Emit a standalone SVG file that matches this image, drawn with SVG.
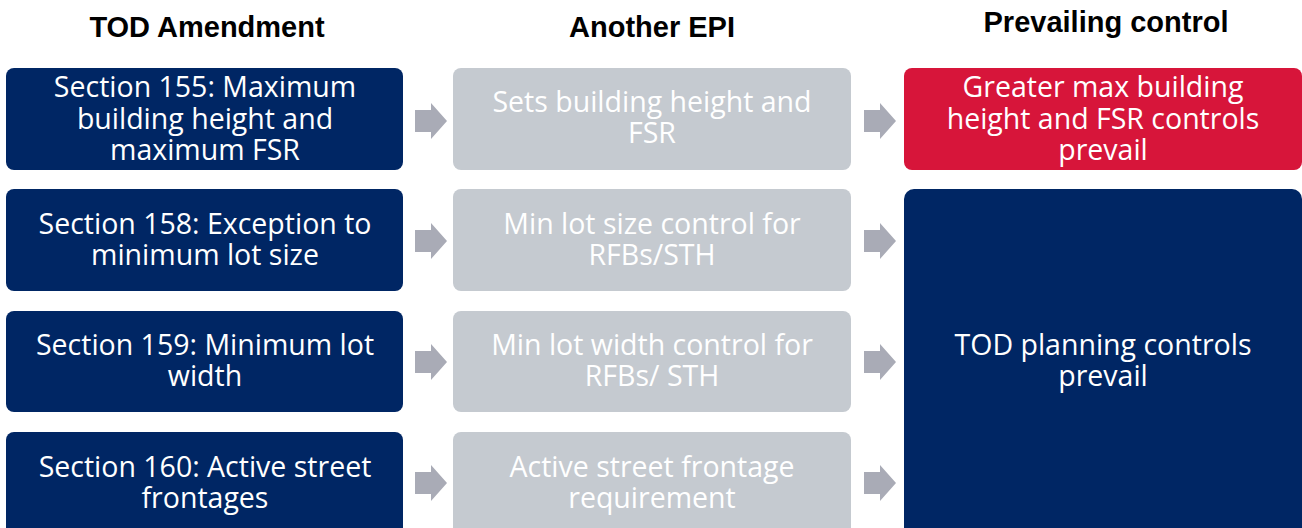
<svg xmlns="http://www.w3.org/2000/svg" width="1302" height="528" viewBox="0 0 1302 528">
  <style>
    .hdr { font-family: "Liberation Sans", Arial, sans-serif; font-weight: bold; font-size: 29px; fill: #000; text-anchor: middle; }
    .lbl { font-family: "Open Sans", "Noto Sans", sans-serif; font-size: 28.5px; fill: #fff; text-anchor: middle; }
    .navy { fill: #002664; }
    .grey { fill: #c5cad0; }
    .red { fill: #d7153a; }
    .arrow { fill: #a9abb6; }
  </style>
  <defs>
    <path id="arr" d="M0,-11 H16 V-18 L32,0 L16,18 V11 H0 Z"/>
  </defs>
  <rect width="1302" height="528" fill="#fff"/>

  <!-- column headings -->
  <g id="headings">
    <text class="hdr" x="207" y="37">TOD Amendment</text>
    <text class="hdr" x="652" y="37">Another EPI</text>
    <text class="hdr" x="1106" y="32">Prevailing control</text>
  </g>

  <!-- TOD amendment sections -->
  <g id="s155">
    <rect class="navy" x="6" y="68" width="397" height="102" rx="8"/>
    <text class="lbl" x="205" y="97">Section 155: Maximum</text>
    <text class="lbl" x="205" y="129">building height and</text>
    <text class="lbl" x="205" y="160">maximum FSR</text>
  </g>
  <g id="s158">
    <rect class="navy" x="6" y="189" width="397" height="102" rx="8"/>
    <text class="lbl" x="205" y="234">Section 158: Exception to</text>
    <text class="lbl" x="205" y="265">minimum lot size</text>
  </g>
  <g id="s159">
    <rect class="navy" x="6" y="311" width="397" height="101" rx="8"/>
    <text class="lbl" x="205" y="355">Section 159: Minimum lot</text>
    <text class="lbl" x="205" y="386">width</text>
  </g>
  <g id="s160">
    <rect class="navy" x="6" y="432" width="397" height="106" rx="8"/>
    <text class="lbl" x="205" y="477">Section 160: Active street</text>
    <text class="lbl" x="205" y="508">frontages</text>
  </g>

  <!-- other EPI controls -->
  <g id="epi-height">
    <rect class="grey" x="453" y="68" width="398" height="102" rx="8"/>
    <text class="lbl" x="652" y="112">Sets building height and</text>
    <text class="lbl" x="652" y="143">FSR</text>
  </g>
  <g id="epi-lot-size">
    <rect class="grey" x="453" y="189" width="398" height="102" rx="8"/>
    <text class="lbl" x="652" y="234">Min lot size control for</text>
    <text class="lbl" x="652" y="265">RFBs/STH</text>
  </g>
  <g id="epi-lot-width">
    <rect class="grey" x="453" y="311" width="398" height="101" rx="8"/>
    <text class="lbl" x="652" y="355">Min lot width control for</text>
    <text class="lbl" x="652" y="386">RFBs/ STH</text>
  </g>
  <g id="epi-frontage">
    <rect class="grey" x="453" y="432" width="398" height="106" rx="8"/>
    <text class="lbl" x="652" y="477">Active street frontage</text>
    <text class="lbl" x="652" y="508">requirement</text>
  </g>

  <!-- prevailing controls -->
  <g id="prevail-height">
    <rect class="red" x="904" y="68" width="398" height="102" rx="8"/>
    <text class="lbl" x="1103" y="97">Greater max building</text>
    <text class="lbl" x="1103" y="129">height and FSR controls</text>
    <text class="lbl" x="1103" y="160">prevail</text>
  </g>
  <g id="prevail-tod">
    <rect class="navy" x="904" y="189" width="398" height="350" rx="10"/>
    <text class="lbl" x="1103" y="355">TOD planning controls</text>
    <text class="lbl" x="1103" y="386">prevail</text>
  </g>

  <!-- connectors -->
  <g id="connectors" class="arrow">
    <use href="#arr" x="415" y="121"/>
    <use href="#arr" x="415" y="241"/>
    <use href="#arr" x="415" y="362"/>
    <use href="#arr" x="415" y="483"/>
    <use href="#arr" x="864" y="121"/>
    <use href="#arr" x="864" y="241"/>
    <use href="#arr" x="864" y="362"/>
    <use href="#arr" x="864" y="483"/>
  </g>
</svg>
